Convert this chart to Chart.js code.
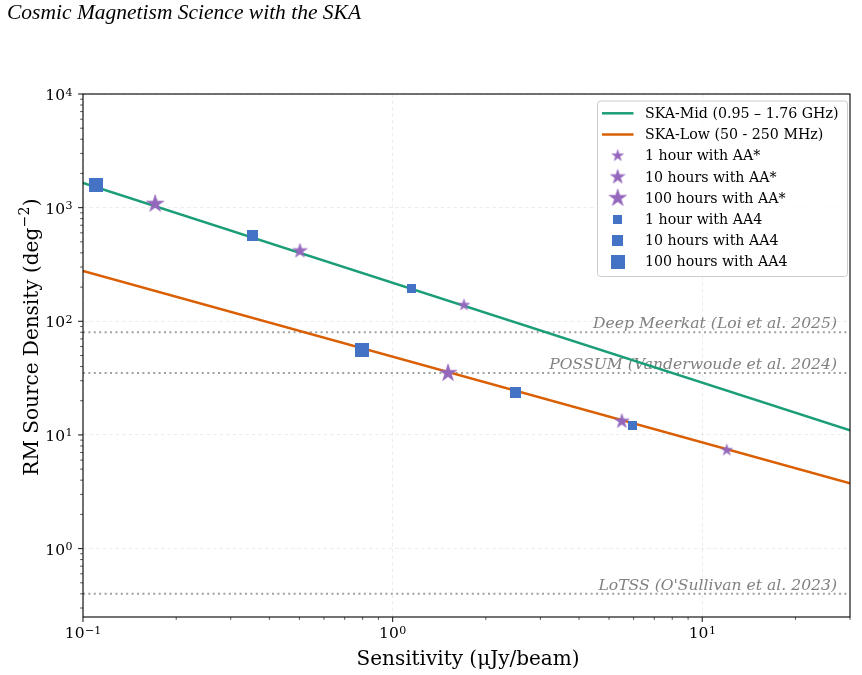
<!DOCTYPE html>
<html>
<head>
<meta charset="utf-8">
<script src="https://cdn.jsdelivr.net/npm/chart.js@4.4.1/dist/chart.umd.min.js"></script>
<style>
  html, body { margin: 0; padding: 0; background: #fff; }
</style>
</head>
<body>
<canvas id="rm" width="862" height="675"></canvas>
<script>
// power-law lines, read at the two plot edges
var midX = [0.1, 30];
var midY = [1650, 11.0];
var lowX = [0.1, 30];
var lowY = [277, 3.76];

// AA* (stars), first point on SKA-Mid, second on SKA-Low
var star1hX = [1.70, 12.0];   var star1hY = [139, 7.35];
var star10hX = [0.502, 5.50]; var star10hY = [416, 13.2];
var star100hX = [0.171, 1.51]; var star100hY = [1080, 35.0];

// AA4 (squares)
var sq1hX = [1.15, 5.97];    var sq1hY = [196, 12.2];
var sq10hX = [0.352, 2.49];  var sq10hY = [564, 23.8];
var sq100hX = [0.110, 0.799]; var sq100hY = [1590, 55.8];

// reference surveys
var refNames = ['Deep Meerkat (Loi et al. 2025)', 'POSSUM (Vanderwoude et al. 2024)', "LoTSS (O'Sullivan et al. 2023)"];
var refValues = [80, 35, 0.4];

var xTicks = [0.1, 1, 10];
var xTickExp = ['\u22121', '0', '1'];
var yTicks = [1, 10, 100, 1000, 10000];
var yTickExp = ['0', '1', '2', '3', '4'];

var GREEN = '#1b9e77', ORANGE = '#d95f02', PURPLE = '#9467bd', BLUE = '#4472c4';
var SERIF = '"DejaVu Serif", serif';

function pts(xs, ys) {
  return xs.map(function (x, i) { return { x: x, y: ys[i] }; });
}

function starImg(R) {
  var s = Math.ceil(R * 2 + 3);
  var c = document.createElement('canvas');
  c.width = s; c.height = s;
  var g = c.getContext('2d');
  g.translate(s / 2, s / 2);
  g.beginPath();
  for (var i = 0; i < 10; i++) {
    var r = i % 2 ? R * 0.381966 : R;
    var a = -Math.PI / 2 + i * Math.PI / 5;
    g.lineTo(r * Math.cos(a), r * Math.sin(a));
  }
  g.closePath();
  g.fillStyle = PURPLE;
  g.fill();
  g.strokeStyle = 'rgba(148,103,189,0.6)';
  g.lineWidth = 1;
  g.lineJoin = 'round';
  g.stroke();
  return c;
}

function squareImg(side) {
  var s = Math.ceil(side);
  var c = document.createElement('canvas');
  c.width = s; c.height = s;
  var g = c.getContext('2d');
  g.fillStyle = BLUE;
  g.fillRect(0, 0, s, s);
  return c;
}

function lineSet(label, xs, ys, color) {
  return { label: label, data: pts(xs, ys), showLine: true, borderColor: color, backgroundColor: color,
    borderWidth: 2.5, pointRadius: 0, order: 10, kind: 'line' };
}
function markSet(label, xs, ys, img, order) {
  return { label: label, data: pts(xs, ys), showLine: false, pointStyle: img,
    pointRadius: img.width / 2, order: order, kind: 'mark' };
}

function drawPow(ctx, x, baseline, exp, align) {
  ctx.font = '15.5px ' + SERIF;
  var wb = ctx.measureText('10').width;
  ctx.font = '11px ' + SERIF;
  var we = ctx.measureText(exp).width;
  var w = wb + 0.5 + we;
  var x0 = align === 'right' ? x - w : x - w / 2;
  ctx.textAlign = 'left';
  ctx.textBaseline = 'alphabetic';
  ctx.font = '15.5px ' + SERIF;
  ctx.fillText('10', x0, baseline);
  ctx.font = '11px ' + SERIF;
  ctx.fillText(exp, x0 + wb + 0.5, baseline - 4.5);
}

var decor = {
  id: 'decor',
  beforeDatasetsDraw: function (chart) {
    var ctx = chart.ctx, a = chart.chartArea, ys = chart.scales.y;
    ctx.save();
    refValues.forEach(function (v, i) {
      var py = ys.getPixelForValue(v);
      ctx.strokeStyle = 'rgba(128,128,128,0.75)';
      ctx.lineWidth = 2;
      ctx.setLineDash([2, 3.4]);
      ctx.beginPath();
      ctx.moveTo(a.left, py);
      ctx.lineTo(a.right, py);
      ctx.stroke();
      ctx.setLineDash([]);
      ctx.fillStyle = '#808080';
      ctx.font = 'italic 15.6px ' + SERIF;
      ctx.textAlign = 'right';
      ctx.textBaseline = 'alphabetic';
      ctx.fillText(refNames[i], 837, py - 4);
    });
    ctx.restore();
  },
  afterDatasetsDraw: function (chart) {
    var ctx = chart.ctx, a = chart.chartArea, xs = chart.scales.x, ys = chart.scales.y;
    ctx.save();

    // frame
    ctx.strokeStyle = '#000';
    ctx.lineWidth = 1.1;
    ctx.strokeRect(a.left, a.top, a.right - a.left, a.bottom - a.top);

    // ticks
    ctx.strokeStyle = '#222';
    var d, k, v, p;
    for (d = -1; d <= 1; d++) {
      for (k = 1; k <= 9; k++) {
        v = k * Math.pow(10, d);
        if (v < xs.min - 1e-9 || v > xs.max) continue;
        p = xs.getPixelForValue(v);
        ctx.lineWidth = k === 1 ? 1.1 : 0.8;
        ctx.beginPath();
        ctx.moveTo(p, a.bottom);
        ctx.lineTo(p, a.bottom + (k === 1 ? 4.9 : 2.8));
        ctx.stroke();
      }
    }
    for (d = -1; d <= 4; d++) {
      for (k = 1; k <= 9; k++) {
        v = k * Math.pow(10, d);
        if (v < ys.min || v > ys.max + 1e-6) continue;
        p = ys.getPixelForValue(v);
        ctx.lineWidth = k === 1 ? 1.1 : 0.8;
        ctx.beginPath();
        ctx.moveTo(a.left, p);
        ctx.lineTo(a.left - (k === 1 ? 4.9 : 2.8), p);
        ctx.stroke();
      }
    }

    // tick labels
    ctx.fillStyle = '#000';
    xTicks.forEach(function (t, i) {
      drawPow(ctx, xs.getPixelForValue(t), a.bottom + 21, xTickExp[i], 'center');
    });
    yTicks.forEach(function (t, i) {
      drawPow(ctx, a.left - 10.5, ys.getPixelForValue(t) + 6, yTickExp[i], 'right');
    });

    // axis titles
    ctx.font = '20px ' + SERIF;
    ctx.textAlign = 'center';
    ctx.textBaseline = 'alphabetic';
    ctx.fillText('Sensitivity (\u03bcJy/beam)', 468, 665);

    ctx.save();
    ctx.translate(38, 337);
    ctx.rotate(-Math.PI / 2);
    ctx.textAlign = 'left';
    var p1 = 'RM Source Density (deg', p2 = '\u22122', p3 = ')';
    ctx.font = '20px ' + SERIF;
    var w1 = ctx.measureText(p1).width, w3 = ctx.measureText(p3).width;
    ctx.font = '14px ' + SERIF;
    var w2 = ctx.measureText(p2).width;
    var x0 = -(w1 + w2 + w3 + 1) / 2;
    ctx.font = '20px ' + SERIF;
    ctx.fillText(p1, x0, 0);
    ctx.font = '14px ' + SERIF;
    ctx.fillText(p2, x0 + w1 + 0.5, -9);
    ctx.font = '20px ' + SERIF;
    ctx.fillText(p3, x0 + w1 + w2 + 1, 0);
    ctx.restore();

    // legend
    var lx = 597.5, ly = 101, lw = 250, lh = 175.5;
    ctx.beginPath();
    ctx.roundRect(lx, ly, lw, lh, 3);
    ctx.fillStyle = 'rgba(255,255,255,0.8)';
    ctx.fill();
    ctx.strokeStyle = '#cccccc';
    ctx.lineWidth = 1;
    ctx.stroke();
    ctx.font = '14.2px ' + SERIF;
    ctx.textAlign = 'left';
    ctx.textBaseline = 'middle';
    chart.data.datasets.forEach(function (ds, i) {
      var ry = 113.3 + i * 21.2;
      if (ds.kind === 'line') {
        ctx.strokeStyle = ds.borderColor;
        ctx.lineWidth = 2.5;
        ctx.beginPath();
        ctx.moveTo(602, ry);
        ctx.lineTo(633.5, ry);
        ctx.stroke();
      } else {
        var img = ds.pointStyle;
        ctx.drawImage(img, 617.7 - img.width / 2, ry - img.height / 2);
      }
      ctx.fillStyle = '#000';
      ctx.fillText(ds.label, 645, ry + 1);
    });

    // figure title
    ctx.font = 'italic 21.5px "Liberation Serif", serif';
    ctx.textAlign = 'left';
    ctx.textBaseline = 'alphabetic';
    ctx.fillStyle = '#000';
    ctx.fillText('Cosmic Magnetism Science with the SKA', 7, 19);

    ctx.restore();
  }
};

var gridOpts = { color: 'rgba(176,176,176,0.3)', lineWidth: 0.8, drawTicks: false };

new Chart(document.getElementById('rm'), {
  type: 'scatter',
  data: {
    datasets: [
      lineSet('SKA-Mid (0.95 \u2013 1.76 GHz)', midX, midY, GREEN),
      lineSet('SKA-Low (50 - 250 MHz)', lowX, lowY, ORANGE),
      markSet('1 hour with AA*', star1hX, star1hY, starImg(6), 5),
      markSet('10 hours with AA*', star10hX, star10hY, starImg(7.6), 5),
      markSet('100 hours with AA*', star100hX, star100hY, starImg(9.2), 5),
      markSet('1 hour with AA4', sq1hX, sq1hY, squareImg(9), 1),
      markSet('10 hours with AA4', sq10hX, sq10hY, squareImg(11), 1),
      markSet('100 hours with AA4', sq100hX, sq100hY, squareImg(13.5), 1)
    ]
  },
  options: {
    responsive: false,
    animation: false,
    events: [],
    devicePixelRatio: 1,
    layout: { padding: { top: 94, right: 5, left: 0, bottom: 0 } },
    plugins: { legend: { display: false }, tooltip: { enabled: false } },
    scales: {
      x: {
        type: 'logarithmic', min: 0.1, max: 30,
        grid: gridOpts,
        border: { display: false, dash: [3.5, 3] },
        ticks: { display: false },
        afterBuildTicks: function (s) { s.ticks = xTicks.map(function (v) { return { value: v }; }); },
        afterFit: function (s) { s.height = 58; }
      },
      y: {
        type: 'logarithmic', min: 0.25, max: 10000,
        grid: gridOpts,
        border: { display: false, dash: [3.5, 3] },
        ticks: { display: false },
        afterBuildTicks: function (s) { s.ticks = yTicks.map(function (v) { return { value: v }; }); },
        afterFit: function (s) { s.width = 83; }
      }
    }
  },
  plugins: [decor]
});
</script>
</body>
</html>
